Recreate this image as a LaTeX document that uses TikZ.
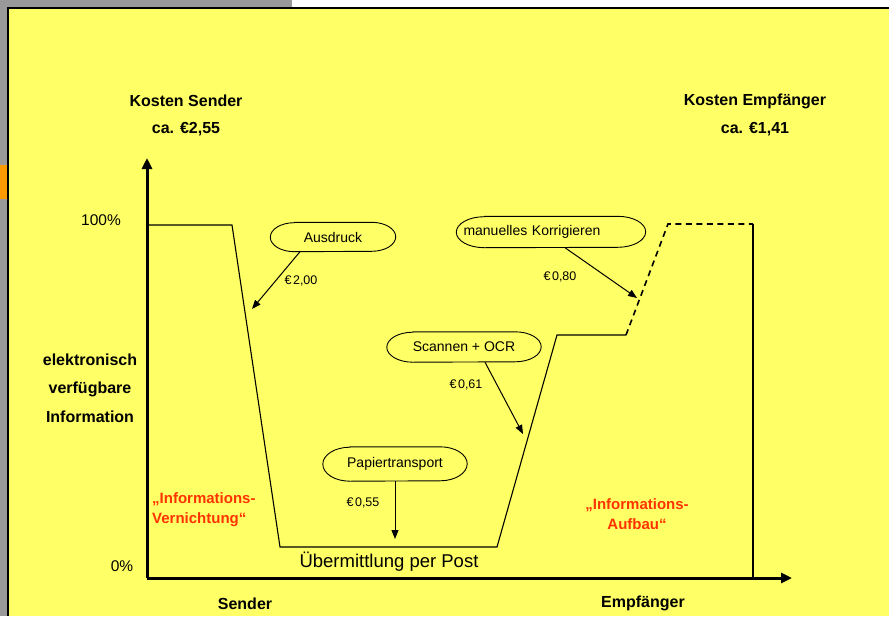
\documentclass[tikz,border=0pt]{standalone}
\usepackage{fontspec}
\setmainfont{Liberation Sans}
\usetikzlibrary{arrows.meta}
\definecolor{bgyellow}{RGB}{255,255,102}
\definecolor{bggrey}{RGB}{153,153,153}
\definecolor{bgorange}{RGB}{255,153,0}
\definecolor{redtxt}{RGB}{255,51,0}
% capsule outline with elliptical ends around node #1, half-height #2, end x-radius #3
% (radii given in pt, so arc angles follow the page directions)
\newcommand{\capsuleoutline}[3]{%
  \draw[line width=0.9pt] ([xshift=#3]#1.north west) -- ([xshift=-#3]#1.north east)
    arc[start angle=90, end angle=-90, x radius=#3, y radius=#2]
    -- ([xshift=#3]#1.south west)
    arc[start angle=270, end angle=90, x radius=#3, y radius=#2] -- cycle;}
\begin{document}
\begin{tikzpicture}[x=1pt,y=-1pt,
  lbl/.style={font=\fontsize{16}{19}\selectfont\bfseries, inner sep=0pt},
  pct/.style={font=\fontsize{15.5}{19}\selectfont, inner sep=0pt},
  redlbl/.style={font=\fontsize{15}{20}\selectfont\bfseries, text=redtxt, inner sep=0pt},
  capsule/.style={inner sep=0pt, font=\fontsize{14}{17}\selectfont},
  cost/.style={font=\fontsize{12.5}{15}\selectfont, inner sep=0pt},
  curve/.style={line width=1.1pt, line join=miter},
  dashcurve/.style={line width=1.6pt, dash pattern=on 6pt off 4.5pt},
  ptr/.style={line width=1pt, -{Triangle[length=9pt,width=7pt]}},
  axis/.style={line width=3pt, -{Triangle[length=11pt,width=10pt]}}
]
\useasboundingbox (0,0) rectangle (889,616);
% background
\fill[bgyellow] (0,0) rectangle (889,616);
\fill[bggrey] (0,0) rectangle (292,8);
\fill[white] (292,0) rectangle (889,8);
\fill[bggrey] (0,0) rectangle (8,616);
\fill[bgorange] (0,165) rectangle (7,199);
\draw[line width=1.6pt] (8,616) -- (8,8) -- (889,8);

% axes
\coordinate (o) at (147,578);
\coordinate (ytop) at (147,158);
\coordinate (xend) at (792,578);
\draw[axis] (o) -- (ytop);
\draw[axis] (o) -- (xend);

% information curve
\coordinate (c1) at (147,225);
\coordinate (c2) at (232,225);
\coordinate (c3) at (280,547);
\coordinate (c4) at (497,547);
\coordinate (c5) at (557,335);
\coordinate (c6) at (626,335);
\coordinate (c7) at (668,224);
\coordinate (c8) at (753,224);
\coordinate (c9) at (753,578);
\draw[curve] (c1) -- (c2) -- (c3) -- (c4) -- (c5) -- (c6);
\draw[dashcurve] (c6) -- (c7) -- (c8);
\draw[line width=1.1pt] (c8) -- (c9);

% capsules
\node[capsule, minimum width=125pt, minimum height=29pt] (aus) at (333,237) {Ausdruck};
\capsuleoutline{aus}{14.5pt}{24pt}
\node[capsule, minimum width=154pt, minimum height=30pt] (scan) at (464,347) {Scannen + OCR};
\capsuleoutline{scan}{15pt}{26pt}
\node[capsule, minimum width=144pt, minimum height=34pt] (pap) at (395,464) {Papiertransport};
\capsuleoutline{pap}{17pt}{27pt}
\node[capsule, minimum width=189pt, minimum height=31pt, text width=175pt, inner xsep=7pt, align=left] (korr) at (551,232) {manuelles Korrigieren};
\capsuleoutline{korr}{15.5pt}{28pt}

% pointers
\coordinate (pa) at (252,309);
\coordinate (ps) at (523,434);
\coordinate (pp) at (395,539);
\coordinate (pk) at (637,298);
\draw[ptr] ([xshift=-33pt]aus.south) -- (pa);
\draw[ptr] ([xshift=21pt]scan.south) -- (ps);
\draw[ptr] (pap.south) -- (pp);
\draw[ptr] ([xshift=14pt]korr.south) -- (pk);

% cost labels
\node[cost] (k1) at (301,281) {€\hspace{0.12em}2,00};
\node[cost] (k2) at (466,385) {€\hspace{0.12em}0,61};
\node[cost] (k3) at (363,503) {€\hspace{0.12em}0,55};
\node[cost] (k4) at (560,277) {€\hspace{0.12em}0,80};

% titles
\node[lbl] (ks) at (186,101) {Kosten Sender};
\node[lbl] (ksv) at (186,129) {ca. €2,55};
\node[lbl] (ke) at (755,101) {Kosten Empfänger};
\node[lbl] (kev) at (755,129) {ca. €1,41};

\node[pct] (p100) at (101,220) {100\%};
\node[pct] (p0) at (122,566) {0\%};

\node[lbl] (el1) at (90,360) {elektronisch};
\node[lbl] (el2) at (90,389) {verfügbare};
\node[lbl] (el3) at (90,417) {Information};

\node[redlbl, anchor=west, align=left] (rv) at (152,510) {„Informations-\\Vernichtung“};
\node[redlbl, align=center] (ra) at (637,514) {„Informations-\\Aufbau“};

\node[font=\fontsize{18.5}{22}\selectfont, inner sep=0pt] (post) at (389,562) {Übermittlung per Post};

\node[lbl] (snd) at (245,604) {Sender};
\node[lbl] (emp) at (643,603) {Empfänger};
\end{tikzpicture}
\end{document}
